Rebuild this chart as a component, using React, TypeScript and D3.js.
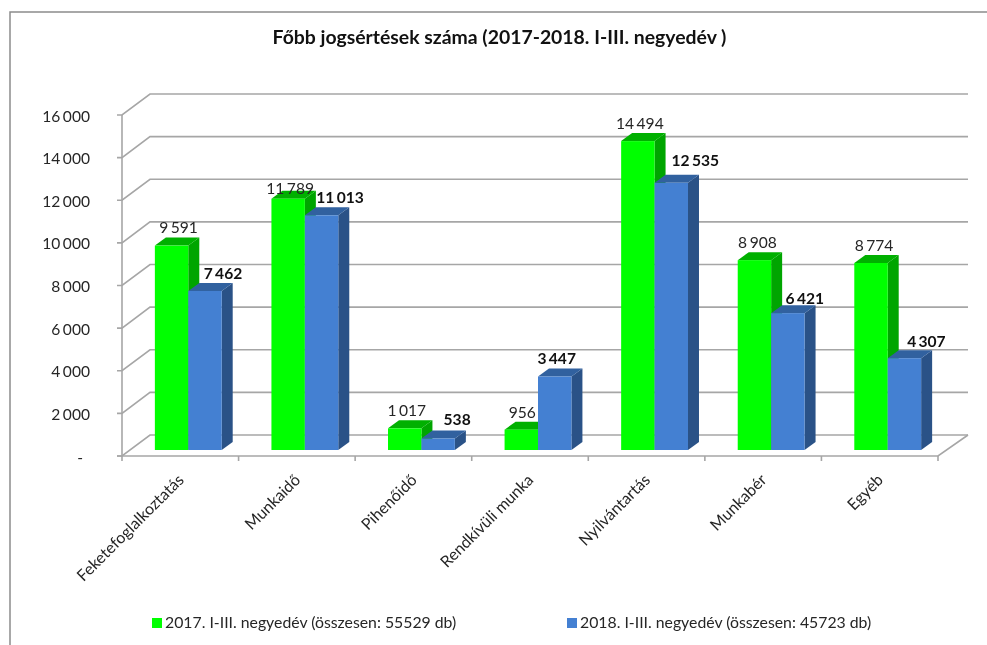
import React from "react";
import * as d3 from "d3";

const categories = ["Feketefoglalkoztatás", "Munkaidő", "Pihenőidő", "Rendkívüli munka", "Nyilvántartás", "Munkabér", "Egyéb"];
const values2017 = [9591, 11789, 1017, 956, 14494, 8908, 8774];
const values2018 = [7462, 11013, 538, 3447, 12535, 6421, 4307];
const labels2017 = ["9 591", "11 789", "1 017", "956", "14 494", "8 908", "8 774"];
const labels2018 = ["7 462", "11 013", "538", "3 447", "12 535", "6 421", "4 307"];
const yTicks = [0, 2000, 4000, 6000, 8000, 10000, 12000, 14000, 16000];
const yTickLabels = ["-", "2 000", "4 000", "6 000", "8 000", "10 000", "12 000", "14 000", "16 000"];
const chartTitle = "Főbb jogsértések száma (2017-2018. I-III. negyedév )";
const legend2017 = "2017. I-III. negyedév (összesen: 55529 db)";
const legend2018 = "2018. I-III. negyedév (összesen: 45723 db)";

const FONT = "Lato, 'Open Sans', sans-serif";
const W = 987, H = 645;
const X0 = 122, X1 = 938, Y0 = 456, Y1 = 115;
const WALL_DX = 28, WALL_DY = 21;
const BAR_DX = 11, BAR_DY = 8;
const BAR_SHIFT_X = 8, BAR_LIFT = 6;
const GRID = "#a6a6a6";
// label placement relative to the bar fronts, as in the reference
const gap2017 = [13, 5, 12, 12, 12, 12, 12];
const gap2018 = [12, 12, 14, 13, 17, 9, 11];
const shift2017 = [7, 2, 2, 1, 2, 3, 3];
const shift2018 = [18, 18.5, 19, 2, 24, 17, 22];

export default function App() {
  const y = d3.scaleLinear().domain([0, 16000]).range([Y0, Y1]);
  const x = d3.scaleBand<string>().domain(categories).range([X0, X1]).paddingInner(0.4266).paddingOuter(0.2133);
  const bw = x.bandwidth() / 2;
  const line = d3.line();

  const bar = (x0: number, v: number, front: string, top: string, side: string, key: string) => {
    const yt = y(v) - BAR_LIFT, yb = Y0 - BAR_LIFT, x1 = x0 + bw;
    return (
      <g key={key}>
        <path d={line([[x1, yt], [x1 + BAR_DX, yt - BAR_DY], [x1 + BAR_DX, yb - BAR_DY], [x1, yb]]) + "Z"} fill={side} />
        <path d={line([[x0, yt], [x0 + BAR_DX, yt - BAR_DY], [x1 + BAR_DX, yt - BAR_DY], [x1, yt]]) + "Z"} fill={top} />
        <rect x={x0} y={yt} width={bw} height={yb - yt} fill={front} />
      </g>
    );
  };

  return (
    <svg width={W} height={H} viewBox={`0 0 ${W} ${H}`} style={{ position: "absolute", left: 0, top: 0, background: "#fff", filter: "blur(0.35px)" }} fontFamily={FONT}>
      <path d="M10,645 V12 H987" fill="none" stroke="#8c8c8c" strokeWidth={1.5} />
      <text x={499.5} y={44} textAnchor="middle" fontSize={19.4} fontWeight={700} fill="#111">{chartTitle}</text>

      {yTicks.map((t, i) => (
        <g key={t}>
          <path d={line([[X0 - 5, y(t)], [X0, y(t)], [X0 + WALL_DX, y(t) - WALL_DY], [X1 + WALL_DX + 2, y(t) - WALL_DY]]) ?? ""} fill="none" stroke={GRID} strokeWidth={1.6} />
          <text x={t === 0 ? 83 : 90} y={y(t) + 6.5} textAnchor="end" fontSize={15.6} wordSpacing={-1.5} fill="#262626">{yTickLabels[i]}</text>
        </g>
      ))}
      <path d={line([[X0, Y0], [X0, Y1]]) ?? ""} stroke={GRID} strokeWidth={1.6} fill="none" />
      <path d={line([[X0 - 5, Y0], [X1, Y0], [X1 + WALL_DX + 2, Y0 - WALL_DY]]) ?? ""} stroke={GRID} strokeWidth={1.6} fill="none" />
      {[...categories.map((_, i) => i), categories.length].map((i) => {
        const tx = X0 + (i * (X1 - X0)) / categories.length;
        return <path key={i} d={`M${tx},${Y0} V${Y0 + 5}`} stroke={GRID} strokeWidth={1.6} />;
      })}

      {categories.map((c, i) => {
        const gx = (x(c) ?? 0) + BAR_SHIFT_X;
        return (
          <g key={c}>
            {bar(gx, values2017[i], "#00ff00", "#00b000", "#00a500", c + "g")}
            {bar(gx + bw, values2018[i], "#4480d2", "#31619f", "#2a5287", c + "b")}
          </g>
        );
      })}
      {categories.map((c, i) => {
        const gx = (x(c) ?? 0) + BAR_SHIFT_X;
        const g = y(values2017[i]) - BAR_LIFT;
        const b = y(values2018[i]) - BAR_LIFT;
        const tx = (x(c) ?? 0) + x.bandwidth() / 2 + 4.5;
        return (
          <g key={c + "t"}>
            <text x={gx + bw / 2 + shift2017[i]} y={g - gap2017[i]} textAnchor="middle" fontSize={15.6} wordSpacing={-1.5} fill="#262626">{labels2017[i]}</text>
            <text x={gx + bw * 1.5 + shift2018[i]} y={b - gap2018[i]} textAnchor="middle" fontSize={15.6} wordSpacing={-1.5} fontWeight={700} fill="#111">{labels2018[i]}</text>
            <text transform={`translate(${tx},${Y0 + 25}) rotate(-45)`} textAnchor="end" fontSize={16} fill="#262626">{c}</text>
          </g>
        );
      })}

      <rect x={152} y={618} width={10} height={10} fill="#00ff00" />
      <text x={165} y={628} fontSize={15.8} fill="#262626">{legend2017}</text>
      <rect x={567} y={618} width={10} height={10} fill="#4480d2" />
      <text x={580} y={628} fontSize={15.8} fill="#262626">{legend2018}</text>
    </svg>
  );
}
